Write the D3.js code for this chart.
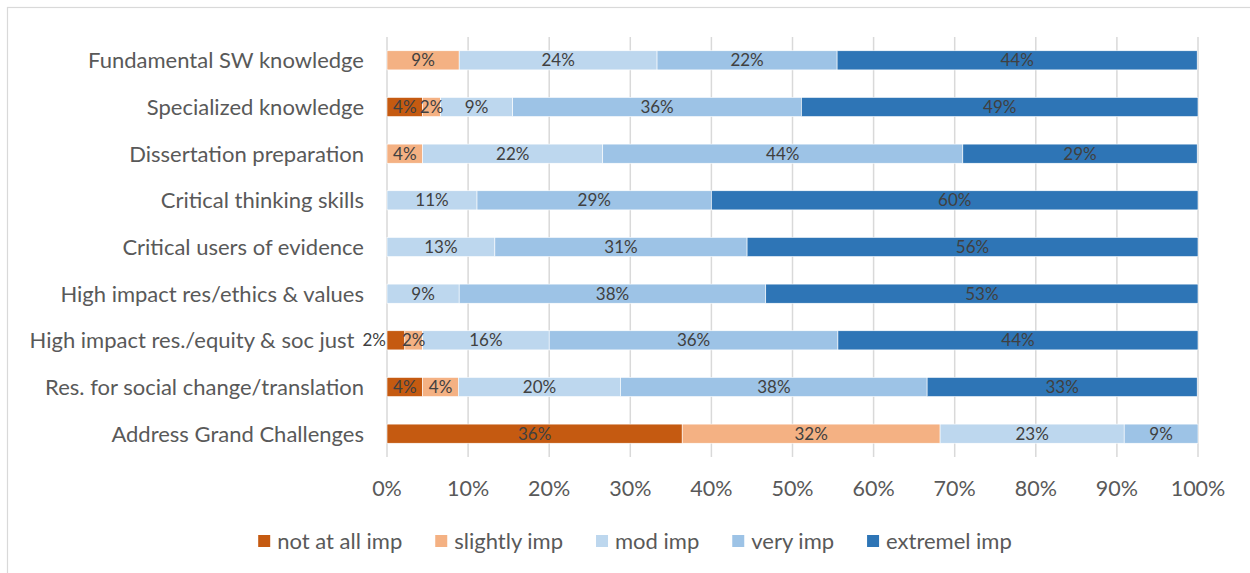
<!DOCTYPE html>
<html>
<head>
<meta charset="utf-8">
<script src="https://cdn.jsdelivr.net/npm/d3@7"></script>
<style>
  html, body { margin: 0; padding: 0; background: #ffffff; }
  svg { display: block; font-family: Lato, "Open Sans", sans-serif; }
</style>
</head>
<body>
<svg id="chart" width="1250" height="573"></svg>
<script>
// Survey items, top to bottom
const categories = [
  "Fundamental SW knowledge",
  "Specialized knowledge",
  "Dissertation preparation",
  "Critical thinking skills",
  "Critical users of evidence",
  "High impact res/ethics & values",
  "High impact res./equity & soc just",
  "Res. for social change/translation",
  "Address Grand Challenges"
];

// Response levels (stack order, left to right)
const seriesNames = ["not at all imp", "slightly imp", "mod imp", "very imp", "extremel imp"];
const seriesColors = ["#C55A11", "#F4B183", "#BDD7EE", "#9DC3E6", "#2E75B6"];

// Share of respondents (%) per item, one array per response level
const notAtAll  = [0,    4.4,  0,    0,    0,    0,    2.2,  4.4,  36.4];
const slightly  = [8.9,  2.2,  4.4,  0,    0,    0,    2.2,  4.4,  31.8];
const moderate  = [24.4, 8.9,  22.2, 11.1, 13.3, 8.9,  15.6, 20.0, 22.7];
const very      = [22.2, 35.6, 44.4, 28.9, 31.1, 37.8, 35.6, 37.8, 9.1];
const extreme   = [44.4, 48.9, 28.9, 60.0, 55.6, 53.3, 44.4, 33.3, 0];

const tickValues = [0, 10, 20, 30, 40, 50, 60, 70, 80, 90, 100];

const svg = d3.select("#chart");
const W = 1250, H = 573;

// Chart frame
svg.append("rect")
  .attr("x", 7.5).attr("y", 7.5)
  .attr("width", W + 10).attr("height", H + 10)
  .attr("fill", "none").attr("stroke", "#d9d9d9").attr("stroke-width", 1.2);

const plot = { left: 387, right: 1198, top: 37, bottom: 457 };

const x = d3.scaleLinear().domain([0, 100]).range([plot.left, plot.right]);
const y = d3.scaleBand().domain(categories)
  .range([plot.top, plot.bottom])
  .paddingInner(0.59).paddingOuter(0.295);

// Build stack input
const rows = categories.map((c, i) => ({
  category: c,
  "not at all imp": notAtAll[i],
  "slightly imp": slightly[i],
  "mod imp": moderate[i],
  "very imp": very[i],
  "extremel imp": extreme[i]
}));
const stacked = d3.stack().keys(seriesNames)(rows);

// Vertical gridlines
svg.append("g").selectAll("line")
  .data(tickValues).join("line")
  .attr("x1", d => x(d)).attr("x2", d => x(d))
  .attr("y1", plot.top).attr("y2", plot.bottom)
  .attr("stroke", "#d9d9d9").attr("stroke-width", 1.5);

// Bars
const color = d3.scaleOrdinal().domain(seriesNames).range(seriesColors);
svg.append("g").selectAll("g")
  .data(stacked).join("g")
  .attr("fill", s => color(s.key))
  .selectAll("rect")
  .data(s => s.filter(d => d[1] - d[0] > 0))
  .join("rect")
  .attr("x", d => x(d[0]))
  .attr("y", d => y(d.data.category))
  .attr("width", d => x(d[1]) - x(d[0]))
  .attr("height", y.bandwidth())
  .attr("stroke", "#ffffff").attr("stroke-width", 0.6);

// Data labels
const fmt = v => Math.round(v) + "%";
const labelG = svg.append("g")
  .attr("font-size", 17).attr("fill", "#404040");
const categoryLabelX = {};
categories.forEach(cat => {
  categoryLabelX[cat] = plot.left - 23;
  const segs = [];
  stacked.forEach(s => {
    const d = s.find(e => e.data.category === cat);
    if (d[1] - d[0] > 0) segs.push({ x0: d[0], x1: d[1], v: d[1] - d[0] });
  });
  const texts = segs.map(sg => labelG.append("text")
    .attr("x", x((sg.x0 + sg.x1) / 2))
    .attr("y", y(cat) + y.bandwidth() / 2)
    .attr("dy", "0.36em")
    .attr("text-anchor", "middle")
    .text(fmt(sg.v)));
  // a label crowding its neighbour is moved out to the left of the bar,
  // and the category name steps aside for it
  if (texts.length > 1) {
    const b0 = texts[0].node().getBBox();
    const b1 = texts[1].node().getBBox();
    if (b0.x + b0.width > b1.x) {
      texts[0].attr("text-anchor", "end").attr("x", x(0) - 1);
      const moved = texts[0].node().getBBox();
      categoryLabelX[cat] = Math.min(categoryLabelX[cat], moved.x - 8);
    }
  }
});

// Category labels
svg.append("g").selectAll("text")
  .data(categories).join("text")
  .attr("x", d => categoryLabelX[d])
  .attr("y", d => y(d) + y.bandwidth() / 2)
  .attr("dy", "0.36em")
  .attr("text-anchor", "end")
  .attr("font-size", 22)
  .attr("fill", "#595959")
  .text(d => d);

// X axis tick labels
svg.append("g").selectAll("text")
  .data(tickValues).join("text")
  .attr("x", d => x(d))
  .attr("y", 488)
  .attr("dy", "0.36em")
  .attr("text-anchor", "middle")
  .attr("font-size", 21.5)
  .attr("fill", "#595959")
  .text(d => d + "%");

// Legend
const legend = svg.append("g");
const items = legend.selectAll("g").data(seriesNames).join("g");
items.append("rect")
  .attr("width", 12).attr("height", 12)
  .attr("y", -6)
  .attr("fill", d => color(d));
items.append("text")
  .attr("x", 19).attr("dy", "0.36em")
  .attr("font-size", 22).attr("fill", "#595959")
  .text(d => d);
let cursor = 0;
const gap = 33;
items.each(function () {
  const w = this.getBBox().width;
  d3.select(this).attr("transform", `translate(${cursor},541)`);
  cursor += w + gap;
});
const legendWidth = cursor - gap;
legend.attr("transform", `translate(${635 - legendWidth / 2},0)`);
</script>
</body>
</html>
